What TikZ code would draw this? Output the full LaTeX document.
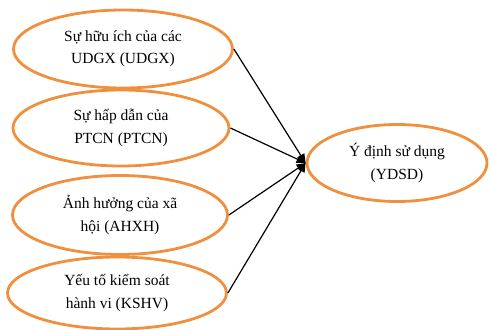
\documentclass[tikz,border=0pt]{standalone}
\usepackage{fontspec}
\setmainfont{Liberation Serif}
\usetikzlibrary{shapes.geometric,arrows.meta}
\definecolor{ovorange}{RGB}{240,144,62}
\tikzset{
  oval/.style={ellipse, draw=ovorange, line width=2.8pt, inner sep=0pt, align=center,
    font=\fontsize{15.5}{22.5}\selectfont, text=black},
  link/.style={-{Triangle[length=9pt,width=8pt]}, line width=1.2pt, black}
}
\begin{document}
\begin{tikzpicture}[x=1pt,y=-1pt]
\useasboundingbox (0,0) rectangle (489,329);
\node[oval, minimum width=219pt, minimum height=78pt] (u) at (123,49) {Sự hữu ích của các\\UDGX (UDGX)};
\node[oval, minimum width=216pt, minimum height=76pt] (p) at (121,128) {Sự hấp dẫn của\\PTCN (PTCN)};
\node[oval, minimum width=215pt, minimum height=79pt] (a) at (120,215) {Ảnh hưởng của xã\\hội (AHXH)};
\node[oval, minimum width=219pt, minimum height=72pt] (k) at (117,293) {Yếu tố kiểm soát\\hành vi (KSHV)};
\node[oval, minimum width=180pt, minimum height=77pt] (y) at (397,163) {Ý định sử dụng\\(YDSD)};
\draw[link] (u.east) -- (y.west);
\draw[link] (p.east) -- (y.west);
\draw[link] (a.east) -- (y.west);
\draw[link] (k.east) -- (y.west);
\end{tikzpicture}
\end{document}
